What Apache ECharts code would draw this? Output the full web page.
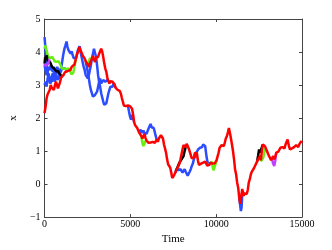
<!DOCTYPE html>
<html><head><meta charset="utf-8">
<script src="https://cdn.jsdelivr.net/npm/echarts@6/dist/echarts.min.js"></script>
<style>html,body{margin:0;padding:0;background:#fff}#c{width:332px;height:250px}</style>
</head><body><div id="c"></div>
<script>
var xTicks = [0, 5000, 10000, 15000];
var yTicks = [-1, 0, 1, 2, 3, 4, 5];

var red = [[0,2.15],[60,2.35],[120,2.6],[180,2.72],[240,2.68],[300,2.85],[360,3.0],[420,2.92],[480,2.95],[540,2.85],[600,2.98],[660,3.1],[720,3.02],[780,2.9],[840,2.95],[900,3.08],[960,3.22],[1020,3.28],[1100,3.3],[1180,3.38],[1260,3.35],[1340,3.42],[1420,3.48],[1500,3.45],[1580,3.55],[1660,3.5],[1740,3.62],[1820,3.78],[1900,3.95],[1960,4.02],[2020,4.15],[2060,4.18],[2100,4.05],[2160,3.98],[2220,3.9],[2280,3.85],[2340,3.8],[2400,3.72],[2460,3.68],[2520,3.62],[2580,3.55],[2640,3.65],[2700,3.72],[2760,3.8],[2820,3.88],[2880,3.78],[2940,3.7],[3000,3.82],[3060,3.76],[3120,3.85],[3180,3.95],[3240,4.02],[3300,4.1],[3360,4.02],[3420,3.85],[3480,3.65],[3540,3.5],[3600,3.4],[3660,3.22],[3720,3.12],[3780,3.05],[3840,3.12],[3900,3.18],[3960,3.1],[4020,3.15],[4080,3.02],[4140,2.92],[4200,2.88],[4260,2.85],[4320,2.9],[4380,2.82],[4440,2.75],[4500,2.62],[4560,2.5],[4620,2.38],[4680,2.32],[4740,2.36],[4800,2.3],[4860,2.38],[4920,2.42],[4980,2.36],[5040,2.4],[5100,2.28],[5160,2.1],[5220,1.88],[5280,1.78],[5340,1.82],[5400,1.7],[5460,1.62],[5520,1.55],[5580,1.6],[5640,1.45],[5700,1.38],[5760,1.42],[5820,1.52],[5880,1.4],[5940,1.32],[6000,1.28],[6060,1.25],[6120,1.3],[6180,1.26],[6240,1.22],[6300,1.28],[6360,1.32],[6420,1.25],[6480,1.3],[6540,1.35],[6600,1.28],[6660,1.38],[6720,1.42],[6780,1.48],[6840,1.45],[6900,1.38],[6960,1.2],[7020,1.08],[7080,0.95],[7140,0.75],[7200,0.6],[7260,0.62],[7320,0.5],[7380,0.35],[7440,0.18],[7500,0.15],[7560,0.28],[7620,0.35],[7680,0.42],[7740,0.38],[7800,0.55],[7860,0.62],[7920,0.75],[7980,0.9],[8040,1.05],[8100,1.18],[8160,1.2],[8220,1.12],[8280,1.22],[8340,1.15],[8400,1.08],[8460,0.98],[8520,0.92],[8580,0.78],[8640,0.72],[8700,0.8],[8760,0.95],[8820,1.0],[8880,0.92],[8940,0.7],[9000,0.58],[9060,0.55],[9120,0.62],[9180,0.58],[9240,0.65],[9300,0.6],[9360,0.68],[9420,0.62],[9480,0.56],[9540,0.62],[9600,0.58],[9660,0.65],[9720,0.7],[9780,0.62],[9840,0.58],[9900,0.62],[9960,0.68],[10020,0.72],[10080,0.78],[10140,0.95],[10200,1.1],[10260,1.05],[10320,1.18],[10380,1.22],[10440,1.15],[10500,1.25],[10560,1.38],[10620,1.45],[10680,1.55],[10740,1.7],[10780,1.68],[10820,1.5],[10860,1.38],[10920,1.2],[10980,1.0],[11040,0.75],[11100,0.45],[11160,0.3],[11220,0.05],[11280,-0.1],[11340,-0.4],[11400,-0.6],[11440,-0.55],[11480,-0.3],[11520,-0.15],[11560,-0.2],[11600,-0.35],[11660,-0.28],[11720,-0.25],[11780,-0.3],[11840,-0.18],[11900,0.05],[11960,0.15],[12020,0.3],[12080,0.38],[12140,0.32],[12200,0.48],[12260,0.55],[12320,0.5],[12380,0.68],[12440,0.75],[12500,0.7],[12560,0.85],[12600,0.72],[12660,1.0],[12720,1.2],[12780,1.18],[12840,1.15],[12900,1.1],[12960,1.0],[13020,0.92],[13080,0.85],[13140,0.8],[13200,0.72],[13260,0.75],[13320,0.85],[13380,0.75],[13440,0.82],[13500,0.95],[13560,0.9],[13620,0.98],[13680,1.02],[13740,1.1],[13800,1.05],[13860,1.12],[13920,1.15],[13980,1.08],[14040,1.2],[14100,1.18],[14160,1.35],[14200,1.38],[14240,1.15],[14300,1.05],[14360,1.0],[14420,1.08],[14480,1.05],[14540,1.12],[14600,1.1],[14660,1.18],[14720,1.15],[14780,1.12],[14840,1.2],[14900,1.15],[14960,1.3],[15000,1.25]];

var blueA = [[0,4.45],[40,4.2],[80,3.9],[120,3.65],[160,3.45],[200,3.3],[260,3.15],[320,3.05],[380,3.2],[440,3.1],[500,3.25],[560,3.4],[620,3.3],[680,3.45],[740,3.55],[800,3.4],[860,3.3],[920,3.45],[980,3.55],[1040,3.75],[1100,3.95],[1160,4.1],[1220,4.2],[1280,4.32],[1340,4.15],[1400,4.05],[1460,4.1],[1520,3.95],[1580,4.02],[1640,3.9],[1700,3.82],[1760,3.88],[1820,3.8],[1880,3.9],[1940,4.05],[2000,4.12],[2046,4.18]];
var blueB = [[0,3.0],[60,3.1],[120,2.95],[180,3.2],[240,3.35],[300,3.15],[360,3.05],[420,3.25],[480,3.35],[540,3.2],[600,3.1],[660,3.3],[720,3.25],[780,3.15],[840,3.3],[900,3.2],[960,3.25],[1020,3.28]];
var blueC = [[0,3.6],[60,3.45],[120,3.3],[180,3.4],[240,3.55],[300,3.45],[360,3.6],[420,3.5],[480,3.4],[540,3.55],[600,3.45],[660,3.3],[720,3.35],[780,3.5],[840,3.45],[900,3.35],[960,3.4],[1020,3.5],[1100,3.45],[1180,3.5],[1260,3.48],[1340,3.42]];
var blueD = [[2046,4.18],[2100,4.0],[2160,3.85],[2220,3.7],[2280,3.55],[2340,3.45],[2400,3.3],[2460,3.35],[2520,3.2],[2580,3.3],[2640,3.45],[2700,3.6],[2760,3.8],[2820,3.95],[2880,4.1],[2940,4.05],[3000,3.85],[3060,3.6],[3120,3.3],[3180,3.1],[3240,2.95],[3300,2.75],[3360,2.7],[3420,2.5],[3480,2.4],[3540,2.35],[3600,2.45],[3660,2.6],[3720,2.75],[3780,2.85],[3840,2.95],[3900,3.0],[3960,2.95],[4020,3.05],[4080,3.0],[4140,2.92]];
var blueE = [[2400,3.72],[2460,3.55],[2520,3.4],[2580,3.2],[2640,3.0],[2700,2.85],[2760,2.75],[2820,2.65],[2880,2.6],[2940,2.7],[3000,2.65],[3060,2.8],[3120,2.95],[3180,3.1],[3240,3.2],[3300,3.05],[3360,3.0],[3420,3.15],[3480,3.2],[3540,3.1],[3600,3.05],[3660,3.15],[3720,3.12]];
var blueF = [[4860,2.38],[4920,2.2],[4980,2.05],[5040,1.95],[5100,2.1],[5160,2.1],[5220,1.88]];
var blueG = [[5520,1.55],[5580,1.65],[5640,1.6],[5700,1.55],[5760,1.62],[5820,1.55],[5880,1.6],[5940,1.52],[6000,1.6],[6060,1.68],[6120,1.75],[6180,1.82],[6240,1.72],[6300,1.78],[6360,1.7],[6420,1.58],[6480,1.45],[6540,1.35]];
var blueH = [[7620,0.35],[7680,0.45],[7740,0.5],[7800,0.42],[7860,0.38],[7920,0.45],[7980,0.4],[8040,0.35],[8100,0.4],[8160,0.45],[8220,0.38],[8280,0.32],[8340,0.25],[8400,0.28],[8460,0.38],[8520,0.45],[8580,0.55],[8640,0.62],[8700,0.75],[8760,0.82],[8820,0.9],[8880,0.98],[8940,1.05],[9000,1.0],[9060,1.1],[9120,1.15],[9180,1.12],[9240,1.2],[9300,1.22],[9360,1.15],[9420,0.9],[9480,0.7],[9540,0.62]];
var blueI = [[11340,-0.4],[11400,-0.65],[11440,-0.82],[11480,-0.7],[11520,-0.3],[11560,-0.22],[11600,-0.35]];

var greenA = [[0,4.1],[40,4.2],[80,4.12],[120,4.05],[160,3.95],[220,3.85],[280,3.9],[340,3.82],[400,3.78],[460,3.85],[520,3.8],[580,3.72],[640,3.78],[700,3.7],[760,3.65],[820,3.72],[880,3.68],[940,3.6],[1000,3.5],[1060,3.45],[1120,3.5],[1180,3.52],[1260,3.48],[1340,3.45],[1420,3.5],[1500,3.42],[1560,3.32],[1620,3.28],[1680,3.38],[1740,3.55],[1800,3.72],[1820,3.78]];
var greenB = [[2520,3.62],[2580,3.7],[2640,3.8],[2700,3.78],[2760,3.8]];
var greenC = [[5640,1.45],[5700,1.25],[5760,1.15],[5820,1.2],[5880,1.3],[5940,1.32]];
var greenD = [[9720,0.7],[9780,0.55],[9840,0.42],[9900,0.48],[9960,0.6],[10020,0.72]];
var greenE = [[12560,0.85],[12620,0.7],[12680,0.65],[12740,0.8],[12800,0.95],[12860,1.1],[12900,1.1]];

var blackA = [[0,3.65],[40,3.85],[80,3.75],[120,3.9],[160,3.8],[200,3.72],[260,3.78],[320,3.7],[380,3.62],[440,3.55],[500,3.6],[560,3.5],[620,3.45],[680,3.42],[740,3.38],[800,3.42],[860,3.35],[920,3.3],[980,3.28],[1020,3.28]];
var blackB = [[7680,0.42],[7740,0.45],[7800,0.58],[7860,0.65],[7920,0.7],[7980,0.75],[8040,0.72],[8100,0.85],[8160,1.0],[8220,1.12]];
var blackC = [[12380,0.68],[12440,0.85],[12500,1.05],[12560,0.95],[12620,1.05],[12680,1.1],[12720,1.2]];

var magA = [[0,3.65],[60,3.58],[120,3.55],[180,3.62],[240,3.7],[300,3.78]];
var magB = [[13260,0.75],[13320,0.62],[13380,0.55],[13440,0.7],[13500,0.95]];

var C_BLUE = '#2b4cff', C_GREEN = '#66ee11', C_BLACK = '#000000', C_MAG = '#c040ff', C_RED = '#ff0000';
var groups = [
  [C_BLUE, [blueA, blueB, blueC, blueD, blueE, blueF, blueG, blueH, blueI]],
  [C_GREEN, [greenA, greenB, greenC, greenD, greenE]],
  [C_BLACK, [blackA, blackB, blackC]],
  [C_MAG, [magA, magB]],
  [C_RED, [red]]
];
var series = [];
groups.forEach(function (g) {
  g[1].forEach(function (d) {
    series.push({type: 'line', data: d, showSymbol: false, symbol: 'none', animation: false,
      lineStyle: {color: g[0], width: 2.5}, silent: true});
  });
});

var font = 'Liberation Serif';
function fmt(v) { return v < 0 ? '\u2212' + Math.abs(v) : String(v); }
var lineCol = '#444';
function axisCommon(pos, showLabel) {
  return {
    type: 'value', position: pos,
    axisLine: {show: true, onZero: false, lineStyle: {color: lineCol}},
    axisTick: {show: true, inside: true, length: 3, lineStyle: {color: lineCol}},
    splitLine: {show: false},
    axisLabel: showLabel ? {fontFamily: font, fontSize: 10, color: '#000', formatter: fmt} : {show: false}
  };
}
var xb = axisCommon('bottom', true), xt = axisCommon('top', false);
var yl = axisCommon('left', true), yr = axisCommon('right', false);
[xb, xt].forEach(function (a) { a.min = xTicks[0]; a.max = xTicks[xTicks.length - 1]; a.interval = 5000; });
[yl, yr].forEach(function (a) { a.min = yTicks[0]; a.max = yTicks[yTicks.length - 1]; a.interval = 1; });
xb.axisLabel.margin = 2;
xb.name = 'Time'; xb.nameLocation = 'middle'; xb.nameGap = 11;
xb.nameTextStyle = {fontFamily: font, fontSize: 11, color: '#000'};
yl.axisLabel.margin = 4;
yl.name = 'x'; yl.nameLocation = 'middle'; yl.nameGap = 17;
yl.nameTextStyle = {fontFamily: font, fontSize: 11, color: '#000'};

var chart = echarts.init(document.getElementById('c'), null, {renderer: 'canvas'});
chart.setOption({
  backgroundColor: '#fff',
  animation: false,
  grid: {left: 43, right: 30, top: 19, bottom: 27},
  xAxis: [xb, xt],
  yAxis: [yl, yr],
  series: series
});
</script></body></html>
